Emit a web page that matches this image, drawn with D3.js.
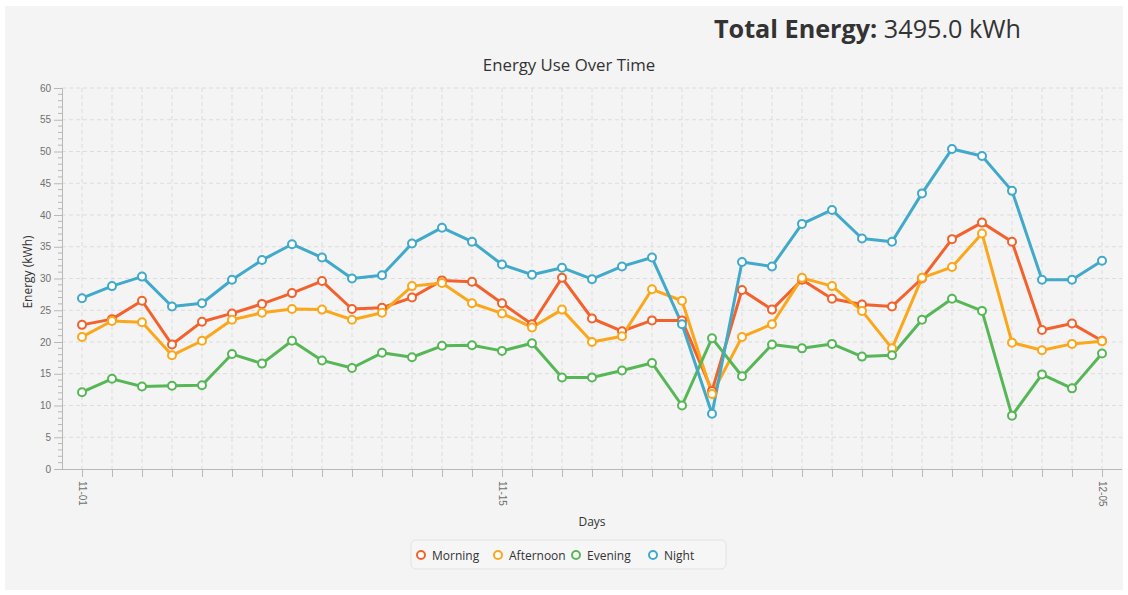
<!DOCTYPE html>
<html lang="en">
<head>
    <title>Energy Use Over Time</title>
    <script src="https://d3js.org/d3.v7.min.js" charset="utf-8"></script>
    <style type="text/css">
        body
        {
            margin: 0;
            background-color: #ffffff;
        }
        svg
        {
            display: block;
            font-family: "Open Sans", "Noto Sans", sans-serif;
        }
    </style>
</head>
<body>
    <div id="chart_div"></div>
    <script>
    "use strict";

    var days = ["11-01","11-02","11-03","11-04","11-05","11-06","11-07","11-08","11-09","11-10",
        "11-11","11-12","11-13","11-14","11-15","11-16","11-17","11-18","11-19","11-20",
        "11-21","11-22","11-23","11-24","11-25","11-26","11-27","11-28","11-29","11-30",
        "12-01","12-02","12-03","12-04","12-05"];
    var shownDays = ["11-01","11-15","12-05"];
    var seriesNames = ["Morning","Afternoon","Evening","Night"];
    var morning = [22.7,23.6,26.5,19.6,23.2,24.5,26.0,27.7,29.6,25.2,
        25.4,27.0,29.7,29.5,26.1,22.8,30.1,23.7,21.7,23.4,
        23.4,12.3,28.2,25.1,29.8,26.8,25.9,25.6,30.0,36.2,
        38.8,35.8,21.9,22.9,20.2];
    var afternoon = [20.8,23.3,23.1,17.9,20.2,23.5,24.6,25.2,25.1,23.5,
        24.6,28.8,29.3,26.1,24.5,22.3,25.1,20.0,20.9,28.3,
        26.5,11.8,20.8,22.8,30.1,28.8,24.9,19.0,30.1,31.8,
        37.1,19.9,18.7,19.7,20.1];
    var evening = [12.1,14.2,13.0,13.1,13.2,18.1,16.6,20.2,17.1,15.9,
        18.3,17.6,19.4,19.5,18.6,19.8,14.4,14.4,15.5,16.7,
        10.0,20.6,14.6,19.6,19.0,19.7,17.7,17.9,23.5,26.8,
        24.9,8.4,14.9,12.7,18.2];
    var night = [26.9,28.8,30.3,25.6,26.1,29.8,32.9,35.4,33.3,30.0,
        30.5,35.5,38.0,35.8,32.2,30.6,31.7,29.9,31.9,33.3,
        22.8,8.7,32.6,31.9,38.6,40.8,36.3,35.8,43.4,50.4,
        49.3,43.8,29.8,29.8,32.8];
    var yTicks = [0,5,10,15,20,25,30,35,40,45,50,55,60];
    var totalLabel = "3495.0 kWh";

    var colors = ["#f3622d","#fba71b","#57b757","#41a9c9"];
    var allSeries = [morning, afternoon, evening, night];

    var svg_width = 1128;
    var svg_height = 595;
    var plotLeft = 62, plotRight = 1122, plotTop = 88, plotBottom = 469;

    var svg = d3.select("#chart_div")
        .append("svg")
        .attr("width", svg_width)
        .attr("height", svg_height);

    svg.append("rect")
        .attr("x", 5).attr("y", 6)
        .attr("width", 1118).attr("height", 584)
        .attr("fill", "#f4f4f4");

    var xscale = d3.scalePoint()
        .domain(days)
        .range([82, 1102]);
    var yscale = d3.scaleLinear()
        .domain([0, 60])
        .range([plotBottom, plotTop]);

    // grid lines
    var grid = svg.append("g");
    grid.selectAll(".hgrid")
        .data(yTicks.slice(1))
        .enter()
        .append("line")
        .attr("x1", plotLeft).attr("x2", plotRight)
        .attr("y1", function(d) { return yscale(d); })
        .attr("y2", function(d) { return yscale(d); })
        .attr("stroke", "#dcdcdc")
        .attr("stroke-dasharray", "4,3");
    grid.selectAll(".vgrid")
        .data(days)
        .enter()
        .append("line")
        .attr("x1", function(d) { return xscale(d); })
        .attr("x2", function(d) { return xscale(d); })
        .attr("y1", plotTop).attr("y2", plotBottom)
        .attr("stroke", "#dcdcdc")
        .attr("stroke-dasharray", "4,3");

    // y axis
    var minorTicks = d3.range(0, 60.01, 1);
    var yaxis = d3.axisLeft(yscale)
        .tickValues(yTicks)
        .tickSize(8)
        .tickPadding(3);
    var yg = svg.append("g")
        .attr("transform", "translate(" + plotLeft + ",0)")
        .call(yaxis);
    yg.selectAll(".minor")
        .data(minorTicks.filter(function(d) { return d % 5 != 0; }))
        .enter()
        .append("line")
        .attr("x1", -4).attr("x2", 0)
        .attr("y1", function(d) { return yscale(d); })
        .attr("y2", function(d) { return yscale(d); })
        .attr("stroke", "#b8b8b8");

    // x axis
    var xaxis = d3.axisBottom(xscale)
        .tickSize(8)
        .tickFormat(function(d) { return shownDays.indexOf(d) >= 0 ? d : ""; });
    var xg = svg.append("g")
        .attr("transform", "translate(0," + plotBottom + ")")
        .call(xaxis);
    xg.select(".domain").attr("d", "M" + plotLeft + ",0.5H" + plotRight);
    xg.selectAll(".tick text")
        .attr("transform", "rotate(90)")
        .attr("x", 12).attr("y", 0)
        .attr("dy", "0.35em")
        .style("text-anchor", "start");

    [yg, xg].forEach(function(g)
    {
        g.select(".domain").attr("stroke", "#b8b8b8");
        g.selectAll(".tick line").attr("stroke", "#b8b8b8");
        g.selectAll(".tick text")
            .attr("fill", "#707070")
            .style("font-size", "10px");
    });

    // series
    var line = d3.line()
        .x(function(d, i) { return xscale(days[i]); })
        .y(function(d) { return yscale(d); });
    allSeries.forEach(function(s, k)
    {
        svg.append("path")
            .datum(s)
            .attr("fill", "none")
            .attr("stroke", colors[k])
            .attr("stroke-width", 3)
            .attr("stroke-linejoin", "round")
            .attr("d", line);
    });
    allSeries.forEach(function(s, k)
    {
        svg.append("g").selectAll("circle")
            .data(s)
            .enter()
            .append("circle")
            .attr("cx", function(d, i) { return xscale(days[i]); })
            .attr("cy", function(d) { return yscale(d); })
            .attr("r", 4)
            .attr("fill", "#ffffff")
            .attr("stroke", colors[k])
            .attr("stroke-width", 2);
    });

    // titles
    svg.append("text")
        .attr("x", 569).attr("y", 71)
        .attr("text-anchor", "middle")
        .attr("fill", "#333333")
        .style("font-size", "16.8px")
        .text("Energy Use Over Time");

    var total = svg.append("text")
        .attr("x", 714).attr("y", 38)
        .attr("fill", "#333333")
        .style("font-size", "25.2px");
    total.append("tspan").style("font-weight", "bold").text("Total Energy: ");
    total.append("tspan").text(totalLabel);

    svg.append("text")
        .attr("transform", "translate(32,272) rotate(-90)")
        .attr("text-anchor", "middle")
        .attr("fill", "#333333")
        .style("font-size", "12px")
        .text("Energy (kWh)");

    svg.append("text")
        .attr("x", 592).attr("y", 526)
        .attr("text-anchor", "middle")
        .attr("fill", "#333333")
        .style("font-size", "12px")
        .text("Days");

    // legend
    var legend = svg.append("g");
    legend.append("rect")
        .attr("x", 411).attr("y", 540)
        .attr("width", 315).attr("height", 29)
        .attr("rx", 5)
        .attr("fill", "#f6f6f6")
        .attr("stroke", "#e2e2e2");
    var legendX = [421, 498, 576, 653];
    seriesNames.forEach(function(name, k)
    {
        legend.append("circle")
            .attr("cx", legendX[k]).attr("cy", 555)
            .attr("r", 4)
            .attr("fill", "#ffffff")
            .attr("stroke", colors[k])
            .attr("stroke-width", 2);
        legend.append("text")
            .attr("x", legendX[k] + 11).attr("y", 559.5)
            .attr("fill", "#333333")
            .style("font-size", "12px")
            .text(name);
    });
    </script>
</body>
</html>
